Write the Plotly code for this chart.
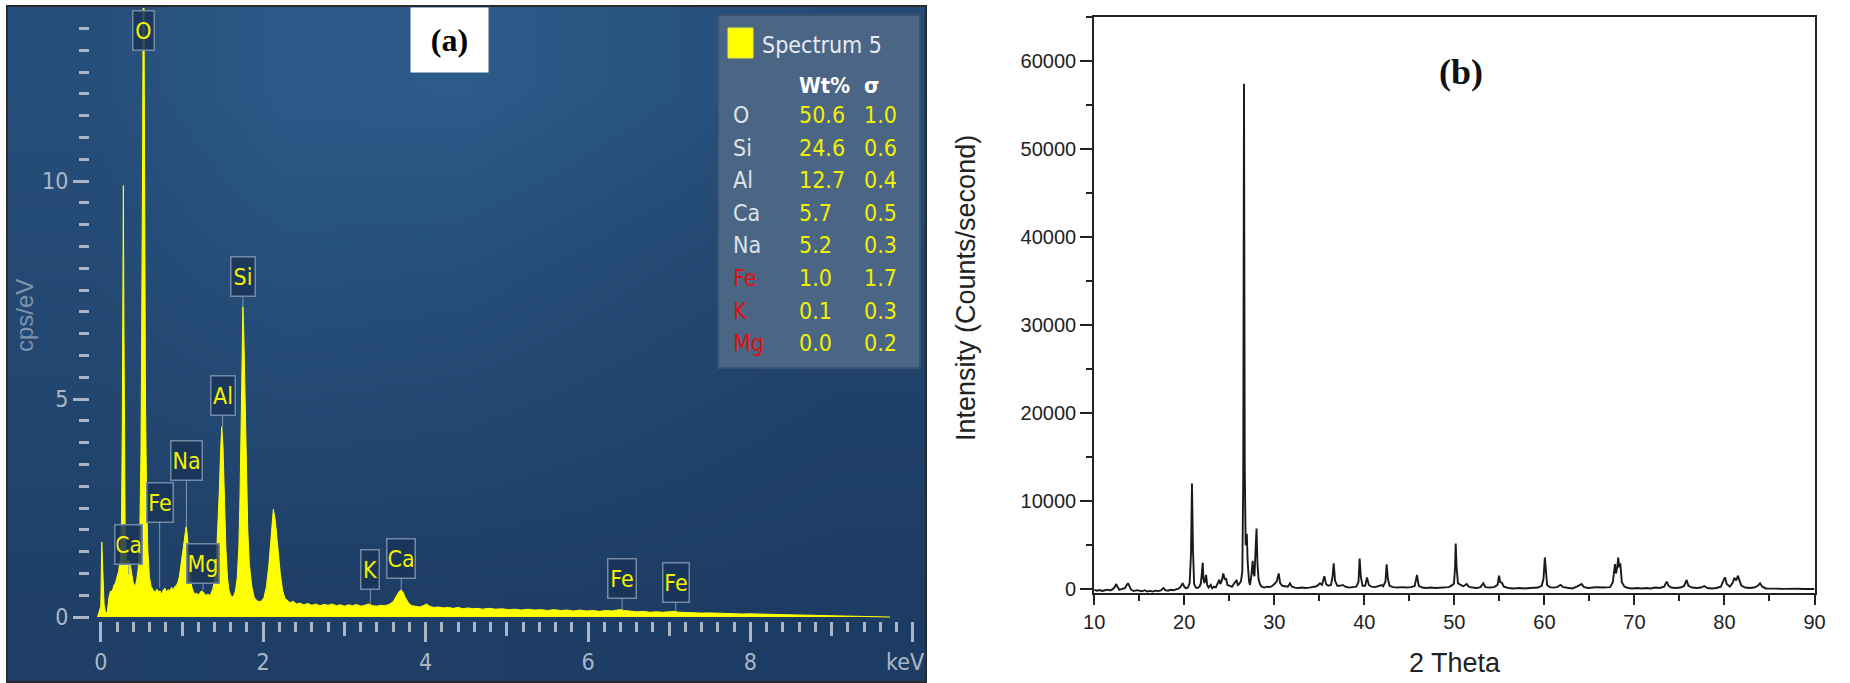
import plotly.graph_objects as go

W, H = 1850, 683
def fx(px): return px / W
def fy(py): return 1 - py / H

NARROW = "Liberation Sans Narrow, DejaVu Sans Condensed, Arial Narrow, sans-serif"
SANS = "Liberation Sans, Arial, sans-serif"
SERIF = "Liberation Serif, Times New Roman, serif"

# ---------------- (a) EDS spectrum ----------------
eds_kev = [-0.04, 0.0, 0.012, 0.025, 0.04, 0.06, 0.08, 0.1, 0.12, 0.14, 0.16, 0.18, 0.2, 0.22, 0.24,
           0.255, 0.265, 0.272, 0.278, 0.284, 0.29, 0.3, 0.315, 0.33, 0.345, 0.36, 0.38, 0.4, 0.42, 0.44,
           0.46, 0.48, 0.495, 0.505, 0.515, 0.522, 0.527, 0.532, 0.54, 0.55, 0.565, 0.58, 0.6, 0.62, 0.645,
           0.67, 0.69, 0.71, 0.73, 0.75, 0.77, 0.79, 0.81, 0.83, 0.85, 0.87, 0.89, 0.91, 0.93, 0.95,
           0.97, 0.99, 1.01, 1.03, 1.05, 1.065, 1.08, 1.1, 1.12, 1.14, 1.16, 1.18, 1.2, 1.22, 1.24,
           1.26, 1.28, 1.3, 1.32, 1.34, 1.36, 1.38, 1.4, 1.42, 1.44, 1.46, 1.475, 1.49, 1.505, 1.52,
           1.54, 1.56, 1.58, 1.6, 1.62, 1.64, 1.66, 1.68, 1.7, 1.715, 1.728, 1.74, 1.75, 1.76, 1.775,
           1.79, 1.81, 1.83, 1.86, 1.89, 1.92, 1.95, 1.98, 2.01, 2.04, 2.07, 2.1, 2.125, 2.15, 2.18,
           2.21, 2.24, 2.27, 2.3, 2.33, 2.37, 2.41, 2.45, 2.5, 2.55, 2.6, 2.65, 2.7, 2.75, 2.8,
           2.85, 2.9, 2.95, 3.0, 3.05, 3.1, 3.15, 3.2, 3.25, 3.3, 3.35, 3.4, 3.45, 3.5, 3.55,
           3.6, 3.64, 3.68, 3.7, 3.72, 3.75, 3.79, 3.83, 3.88, 3.93, 3.97, 4.01, 4.05, 4.1, 4.16,
           4.22, 4.28, 4.34, 4.4, 4.46, 4.52, 4.58, 4.64, 4.7, 4.78, 4.86, 4.94, 5.02, 5.1, 5.18,
           5.26, 5.34, 5.42, 5.5, 5.58, 5.66, 5.74, 5.82, 5.9, 5.98, 6.06, 6.14, 6.22, 6.3, 6.36,
           6.4, 6.45, 6.52, 6.6, 6.68, 6.76, 6.84, 6.92, 7.0, 7.06, 7.12, 7.2, 7.3, 7.4, 7.5,
           7.6, 7.7, 7.8, 7.9, 8.0, 8.1, 8.2, 8.3, 8.4, 8.5, 8.6, 8.7, 8.8, 8.9, 9.0,
           9.1, 9.2, 9.3, 9.4, 9.5, 9.6, 9.7, 9.72]
eds_cps = [0.0, 0.25, 1.72, 0.9, 0.3, 0.08, 0.12, 0.45, 0.6, 0.58, 0.72, 0.78, 0.95, 1.05, 1.35,
           2.2, 4.5, 7.5, 9.9, 7.0, 4.0, 2.0, 1.35, 1.2, 1.3, 1.25, 1.0, 0.78, 0.7, 0.82,
           1.1, 1.9, 3.8, 6.5, 10.5, 14.5, 17.0, 14.0, 9.0, 5.0, 2.6, 1.5, 0.9, 0.7, 0.62,
           0.56, 0.64, 0.58, 0.6, 0.52, 0.62, 0.66, 0.57, 0.63, 0.6, 0.68, 0.62, 0.7, 0.72, 0.8,
           0.95, 1.25, 1.55, 1.85, 2.07, 1.9, 1.4, 0.95, 0.7, 0.58, 0.52, 0.55, 0.5, 0.56, 0.6,
           0.58, 0.52, 0.5, 0.53, 0.49, 0.55, 0.65, 0.85, 1.2, 1.9, 2.9, 3.8, 4.37, 3.9, 2.8,
           1.6, 0.9, 0.6, 0.5, 0.46, 0.5, 0.62, 0.9, 1.6, 2.8, 4.5, 6.3, 7.11, 6.6, 5.0,
           3.4, 2.0, 1.2, 0.7, 0.45, 0.38, 0.35, 0.37, 0.45, 0.7, 1.2, 2.0, 2.47, 2.2, 1.6,
           1.0, 0.6, 0.42, 0.38, 0.33, 0.36, 0.3, 0.32, 0.28, 0.31, 0.27, 0.3, 0.26, 0.29, 0.27,
           0.3, 0.26, 0.28, 0.25, 0.28, 0.26, 0.29, 0.25, 0.27, 0.3, 0.26, 0.25, 0.27, 0.26, 0.29,
           0.35, 0.48, 0.6, 0.62, 0.58, 0.45, 0.32, 0.26, 0.25, 0.23, 0.26, 0.3, 0.25, 0.22, 0.23,
           0.21, 0.22, 0.2, 0.22, 0.19, 0.21, 0.19, 0.2, 0.18, 0.2, 0.18, 0.19, 0.17, 0.18, 0.16,
           0.18, 0.16, 0.17, 0.15, 0.17, 0.15, 0.16, 0.14, 0.16, 0.14, 0.15, 0.13, 0.15, 0.14, 0.16,
           0.17, 0.15, 0.13, 0.12, 0.13, 0.11, 0.12, 0.11, 0.12, 0.13, 0.11, 0.1, 0.1, 0.09, 0.095,
           0.085, 0.08, 0.08, 0.07, 0.075, 0.065, 0.065, 0.06, 0.055, 0.05, 0.05, 0.045, 0.04, 0.035, 0.03,
           0.03, 0.025, 0.02, 0.02, 0.015, 0.01, 0.005, 0.0]

# element markers on the spectrum
mark_labels = ["O", "Ca", "Fe", "Na", "Mg", "Al", "Si", "K", "Ca", "Fe", "Fe"]
mark_kev = [0.526, 0.345, 0.725, 1.055, 1.26, 1.50, 1.75, 3.32, 3.70, 6.42, 7.08]
mark_tip = [13.45, 0.97, 0.67, 2.07, 0.62, 4.37, 7.11, 0.32, 0.62, 0.17, 0.12]
mark_box = [13.45, 1.67, 2.62, 3.6, 1.22, 5.09, 7.8, 1.08, 1.34, 0.89, 0.80]
mark_w = [18, 24, 23, 28, 29, 21, 21, 15, 25, 25, 23]

# quantification table
tbl_elem = ["O", "Si", "Al", "Ca", "Na", "Fe", "K", "Mg"]
tbl_wt = ["50.6", "24.6", "12.7", "5.7", "5.2", "1.0", "0.1", "0.0"]
tbl_sigma = ["1.0", "0.6", "0.4", "0.5", "0.3", "1.7", "0.3", "0.2"]
tbl_flag = [False, False, False, False, False, True, True, True]

# EDS axis ticks
eds_xticks = [0, 2, 4, 6, 8, 10]
eds_xticktext = ["0", "2", "4", "6", "8", ""]
eds_xmid = [1, 3, 5, 7, 9]
eds_yticks = [0, 5, 10]

# ---------------- (b) XRD pattern ----------------
xrd_2theta = [10.0, 10.3, 10.6, 10.9, 11.2, 11.5, 11.8, 12.1, 12.3, 12.45, 12.6, 12.8, 13.1, 13.4, 13.6,
              13.75, 13.9, 14.1, 14.4, 14.7, 15.0, 15.3, 15.6, 15.9, 16.2, 16.5, 16.8, 17.1, 17.4, 17.7,
              17.9, 18.2, 18.5, 18.8, 19.1, 19.4, 19.6, 19.82, 20.0, 20.2, 20.4, 20.6, 20.75, 20.86, 20.97,
              21.1, 21.3, 21.5, 21.7, 21.85, 21.97, 22.05, 22.13, 22.25, 22.42, 22.55, 22.7, 22.94, 23.1, 23.3,
              23.5, 23.7, 23.9, 24.0, 24.15, 24.34, 24.5, 24.64, 24.8, 25.08, 25.3, 25.5, 25.7, 25.82, 25.95,
              26.1, 26.3, 26.45, 26.55, 26.64, 26.72, 26.82, 26.95, 27.05, 27.2, 27.3, 27.45, 27.6, 27.7, 27.8,
              27.92, 28.03, 28.13, 28.25, 28.4, 28.6, 28.9, 29.2, 29.5, 29.8, 30.0, 30.27, 30.49, 30.65, 30.9,
              31.2, 31.5, 31.75, 31.95, 32.3, 32.7, 33.1, 33.5, 33.9, 34.3, 34.7, 35.08, 35.3, 35.56, 35.75,
              36.0, 36.3, 36.48, 36.6, 36.75, 37.0, 37.3, 37.6, 37.9, 38.3, 38.7, 39.1, 39.35, 39.48, 39.62,
              39.8, 40.1, 40.3, 40.5, 40.8, 41.2, 41.6, 41.93, 42.1, 42.35, 42.48, 42.62, 42.8, 43.2, 43.7,
              44.2, 44.7, 45.2, 45.6, 45.85, 46.05, 46.4, 46.9, 47.4, 47.9, 48.2, 48.6, 49.0, 49.4, 49.8,
              49.96, 50.08, 50.15, 50.25, 50.4, 50.7, 51.0, 51.37, 51.6, 52.0, 52.5, 52.9, 53.22, 53.45, 53.9,
              54.4, 54.8, 54.96, 55.1, 55.29, 55.5, 56.0, 56.6, 57.2, 57.8, 58.4, 58.9, 59.3, 59.7, 59.9,
              60.05, 60.15, 60.3, 60.6, 61.0, 61.4, 61.8, 62.1, 62.6, 63.1, 63.6, 64.14, 64.4, 64.9, 65.4,
              65.9, 66.4, 66.9, 67.3, 67.6, 67.84, 67.95, 68.1, 68.2, 68.3, 68.43, 68.6, 68.9, 69.3, 69.8,
              70.3, 70.8, 71.3, 71.8, 72.3, 72.8, 73.3, 73.58, 73.8, 74.1, 74.6, 75.1, 75.5, 75.8, 76.0,
              76.4, 76.9, 77.4, 77.76, 78.1, 78.6, 79.1, 79.6, 79.85, 80.06, 80.25, 80.6, 80.9, 81.1, 81.3,
              81.5, 81.7, 81.9, 82.3, 82.8, 83.3, 83.7, 83.95, 84.2, 84.6, 85.2, 85.8, 86.4, 87.0, 87.6,
              88.2, 88.8, 89.4, 90.0]
xrd_counts = [-50, -150, -80, -180, -100, -40, -120, 50, 300, 600, 250, -50, 60, 120, 450,
              700, 400, -50, -200, -100, -150, -220, -100, -250, -180, -260, -150, -200, -120, 150,
              -100, -150, -50, -100, 0, 100, 300, 700, 300, 100, 200, 700, 4000, 12000, 4500,
              600, 200, 150, 300, 700, 2000, 3000, 1200, 700, 1650, 500, 200, 500, 100, 300,
              200, 600, 1100, 600, 900, 1800, 1100, 1250, 500, 400, 300, 600, 900, 1050, 500,
              600, 900, 2000, 12000, 57400, 14000, 5000, 6300, 3000, 900, 500, 1500, 3240, 1800, 1500,
              4500, 6900, 3000, 1200, 600, 300, 200, 300, 250, 400, 600, 900, 1800, 700, 400,
              350, 300, 680, 300, 200, 150, 200, 150, 200, 250, 350, 680, 500, 1500, 600,
              400, 500, 1500, 2940, 1000, 400, 400, 500, 300, 200, 250, 300, 800, 3500, 1400,
              400, 400, 1360, 500, 300, 250, 350, 490, 350, 900, 2830, 1200, 400, 250, 200,
              250, 200, 250, 400, 1620, 400, 200, 150, 200, 150, 180, 150, 200, 250, 500,
              680, 2500, 5200, 2500, 700, 500, 350, 600, 300, 200, 150, 250, 680, 250, 200,
              250, 500, 1540, 800, 750, 300, 150, 100, 150, 100, 150, 200, 200, 400, 1200,
              3620, 2200, 500, 250, 200, 250, 490, 250, 150, 100, 300, 600, 250, 150, 200,
              250, 200, 200, 250, 800, 2870, 1800, 2600, 3590, 2500, 2940, 800, 300, 150, 100,
              150, 100, 150, 100, 200, 150, 300, 870, 400, 200, 150, 200, 350, 1060, 400,
              200, 150, 200, 380, 150, 100, 150, 300, 900, 1360, 600, 300, 700, 1300, 1000,
              1550, 900, 400, 200, 150, 200, 400, 680, 300, 100, 50, 80, 50, 80, 30,
              60, 40, 50, 40]

xrd_yticks = [0, 10000, 20000, 30000, 40000, 50000, 60000]

# ---------------- figure ----------------
fig = go.Figure()

# gradient backdrop of panel (a)
bg_z = [[0.10, 0.06, 0.05, 0.03, 0.0],
        [0.28, 0.36, 0.32, 0.22, 0.12],
        [0.42, 0.62, 0.58, 0.42, 0.28],
        [0.55, 0.88, 0.92, 0.70, 0.48]]
fig.add_trace(go.Heatmap(z=bg_z, colorscale=[[0, "#1d3c63"], [1, "#2c5a89"]], zsmooth="best",
                         showscale=False, hoverinfo="skip", xaxis="x", yaxis="y"))

fig.add_trace(go.Scatter(x=eds_kev, y=eds_cps, mode="lines", line=dict(color="#ffff00", width=1),
                         fill="tozeroy", fillcolor="#ffff00", xaxis="x2", yaxis="y2",
                         hoverinfo="skip", showlegend=False))
fig.add_trace(go.Scatter(x=[None], y=[None], xaxis="x4", yaxis="y2", showlegend=False))

fig.add_trace(go.Scatter(x=xrd_2theta, y=xrd_counts, mode="lines",
                         line=dict(color="#1a1a1a", width=1.9), xaxis="x3", yaxis="y3",
                         hoverinfo="skip", showlegend=False))

TICKC = "#aab6c7"
x2_range = [(90 - 100.8) / 81.2, (915 - 100.8) / 81.2]
fig.update_layout(
    width=W, height=H, margin=dict(l=0, r=0, t=0, b=0, autoexpand=False),
    paper_bgcolor="white", plot_bgcolor="rgba(0,0,0,0)", showlegend=False,
    xaxis=dict(domain=[fx(8), fx(925)], visible=False, range=[-0.5, 4.5], fixedrange=True),
    yaxis=dict(domain=[fy(681), fy(7)], visible=False, range=[-0.5, 3.5], fixedrange=True),
    xaxis2=dict(domain=[fx(90), fx(915)], range=x2_range, anchor="y2", automargin=False,
                showgrid=False, zeroline=False, showline=False,
                tickmode="array", tickvals=eds_xticks, ticktext=eds_xticktext,
                ticks="outside", ticklen=20, tickwidth=3, tickcolor=TICKC,
                tickfont=dict(family=NARROW, size=23, color=TICKC),
                minor=dict(tickmode="linear", tick0=0, dtick=0.2, ticks="outside", ticklen=10,
                           tickwidth=3, tickcolor=TICKC, showgrid=False)),
    xaxis4=dict(overlaying="x2", range=x2_range, anchor="y2", side="bottom", automargin=False,
                showgrid=False, zeroline=False, showline=False,
                tickmode="array", tickvals=eds_xmid, showticklabels=False,
                ticks="outside", ticklen=14, tickwidth=3, tickcolor=TICKC),
    yaxis2=dict(domain=[fy(621.4), fy(8)], range=[-0.1, (617 - 8) / 43.6], anchor="x2", automargin=False,
                showgrid=False, zeroline=False, showline=False,
                tickmode="array", tickvals=eds_yticks,
                ticks="outside", ticklen=16, tickwidth=3, tickcolor=TICKC,
                tickfont=dict(family=NARROW, size=23, color=TICKC),
                minor=dict(tickmode="linear", tick0=0, dtick=0.5, ticks="outside", ticklen=10,
                           tickwidth=3, tickcolor=TICKC, showgrid=False)),
    xaxis3=dict(domain=[fx(1094.2), fx(1814.5)], range=[10, 90], anchor="y3", automargin=False,
                showgrid=False, zeroline=False, showline=True, linecolor="#222", linewidth=2,
                mirror=True, tickmode="linear", tick0=10, dtick=10,
                ticks="outside", ticklen=10, tickwidth=2, tickcolor="#222",
                tickfont=dict(family=SANS, size=20, color="#222"),
                minor=dict(tickmode="linear", tick0=10, dtick=5, ticks="outside", ticklen=6,
                           tickwidth=2, tickcolor="#222", showgrid=False)),
    yaxis3=dict(domain=[fy(593.3), fy(16.7)], range=[-450, 65000], anchor="x3", automargin=False,
                showgrid=False, zeroline=False, showline=True, linecolor="#222", linewidth=2,
                mirror=True, tickmode="array", tickvals=xrd_yticks, tickformat="d",
                ticks="outside", ticklen=12, tickwidth=2, tickcolor="#222",
                tickfont=dict(family=SANS, size=20, color="#222"),
                minor=dict(tickmode="linear", tick0=0, dtick=5000, ticks="outside", ticklen=6,
                           tickwidth=2, tickcolor="#222", showgrid=False)),
)

shapes = []
# panel (a) frame
shapes.append(dict(type="rect", xref="paper", yref="paper", x0=fx(7), x1=fx(926), y0=fy(682), y1=fy(6),
                   line=dict(color="#2a2a2a", width=2), fillcolor="rgba(0,0,0,0)"))
# quantification table box
shapes.append(dict(type="rect", xref="paper", yref="paper", x0=fx(718), x1=fx(920), y0=fy(368), y1=fy(15),
                   line=dict(color="#3a5271", width=2), fillcolor="#4b6585"))
# legend swatch
shapes.append(dict(type="rect", xref="paper", yref="paper", x0=fx(728), x1=fx(753), y0=fy(58), y1=fy(28),
                   line=dict(color="#e6e64a", width=1), fillcolor="#ffff00"))
fig.update_layout(shapes=shapes)

ann = []
# element marker boxes
for lab, kx, tip, by, w in zip(mark_labels, mark_kev, mark_tip, mark_box, mark_w):
    ann.append(dict(x=kx, y=tip, xref="x2", yref="y2", ax=kx, ay=by, axref="x2", ayref="y2",
                    text=lab, showarrow=(tip != by), arrowhead=0, arrowwidth=1, arrowcolor="#8296ae",
                    font=dict(family=NARROW, size=23, color="#f2f200"),
                    bgcolor="rgba(26,52,88,0.85)", bordercolor="#7389a4", borderwidth=1.5,
                    borderpad=1, width=w, height=36, align="center"))
# keV label
ann.append(dict(x=fx(905), y=fy(662), xref="paper", yref="paper", text="keV", showarrow=False,
                font=dict(family=NARROW, size=23, color=TICKC), xanchor="center", yanchor="middle"))
# cps/eV
ann.append(dict(x=fx(24), y=fy(316), xref="paper", yref="paper", text="cps/eV", showarrow=False,
                textangle=-90, font=dict(family=SANS, size=24, color="#7e92ab"),
                xanchor="center", yanchor="middle"))
# (a)
ann.append(dict(x=fx(449.5), y=fy(40), xref="paper", yref="paper", text="<b>(a)</b>", showarrow=False,
                font=dict(family=SERIF, size=32, color="black"), bgcolor="white",
                width=77, height=64, borderpad=0, xanchor="center", yanchor="middle"))
# table
ann.append(dict(x=fx(760), y=fy(45), xref="paper", yref="paper", text="Spectrum 5", showarrow=False,
                font=dict(family=NARROW, size=23, color="#e6ebf2"), xanchor="left", yanchor="middle"))
ann.append(dict(x=fx(797), y=fy(85), xref="paper", yref="paper", text="<b>Wt%</b>", showarrow=False,
                font=dict(family=NARROW, size=22, color="white"), xanchor="left", yanchor="middle"))
ann.append(dict(x=fx(862), y=fy(85), xref="paper", yref="paper", text="<b>σ</b>", showarrow=False,
                font=dict(family=NARROW, size=22, color="white"), xanchor="left", yanchor="middle"))
for i, (el, wt, sg, fl) in enumerate(zip(tbl_elem, tbl_wt, tbl_sigma, tbl_flag)):
    ry = 115 + i * 32.6
    ann.append(dict(x=fx(731), y=fy(ry), xref="paper", yref="paper", text=el, showarrow=False,
                    font=dict(family=NARROW, size=23, color="#e01010" if fl else "#dde2ea"),
                    xanchor="left", yanchor="middle"))
    ann.append(dict(x=fx(797), y=fy(ry), xref="paper", yref="paper", text=wt, showarrow=False,
                    font=dict(family=NARROW, size=23, color="#f0f000"), xanchor="left", yanchor="middle"))
    ann.append(dict(x=fx(862), y=fy(ry), xref="paper", yref="paper", text=sg, showarrow=False,
                    font=dict(family=NARROW, size=23, color="#f0f000"), xanchor="left", yanchor="middle"))

# (b) panel texts
ann.append(dict(x=fx(1461), y=fy(72), xref="paper", yref="paper", text="<b>(b)</b>", showarrow=False,
                font=dict(family=SERIF, size=36, color="#111"), xanchor="center", yanchor="middle"))
ann.append(dict(x=fx(1454.5), y=fy(663), xref="paper", yref="paper", text="2 Theta", showarrow=False,
                font=dict(family=SANS, size=27, color="#222"), xanchor="center", yanchor="middle"))
ann.append(dict(x=fx(966), y=fy(288), xref="paper", yref="paper", text="Intensity (Counts/second)",
                showarrow=False, textangle=-90, font=dict(family=SANS, size=27, color="#222"),
                xanchor="center", yanchor="middle"))
fig.update_layout(annotations=ann)

POST = ("document.documentElement.style.margin='0px';document.body.style.margin='0px';"
        "document.body.style.padding='0px';document.body.style.overflow='hidden';"
        "document.documentElement.style.overflow='hidden';"
        "var gd=document.getElementsByClassName('plotly-graph-div')[0];"
        "if(gd){gd.style.position='fixed';gd.style.left='0px';gd.style.top='0px';}")
fig.write_html("out.html", config={"displayModeBar": False, "responsive": False}, post_script=POST)
